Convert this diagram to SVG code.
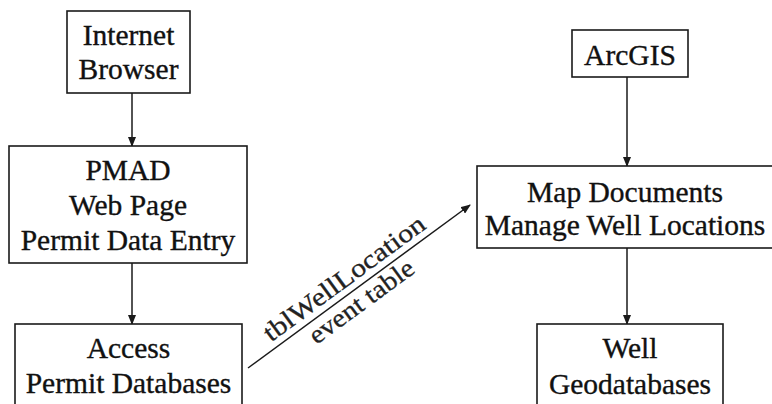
<svg xmlns="http://www.w3.org/2000/svg" width="772" height="404" viewBox="0 0 772 404">
<style>
.box{fill:#fff;stroke:#1a1a1a;stroke-width:1.6}
.t{font-family:"Liberation Serif","Times New Roman",serif;font-size:29.5px;fill:#111;stroke:#111;stroke-width:0.35;text-anchor:middle}
.lbl{font-family:"Liberation Serif","Times New Roman",serif;font-size:26px;fill:#222;stroke:#222;stroke-width:0.3;text-anchor:middle}
.c{stroke:#1a1a1a;stroke-width:1.5;fill:none;marker-end:url(#ah)}
</style>
<defs>
<marker id="ah" markerWidth="10" markerHeight="8" refX="9" refY="4" orient="auto" markerUnits="userSpaceOnUse">
<path d="M0,0 L10,4 L0,8 Z" fill="#1a1a1a"/>
</marker>
</defs>
<rect width="772" height="404" fill="#fff"/>
<g id="connectors">
<line class="c" x1="132" y1="93" x2="132" y2="146"/>
<line class="c" x1="132" y1="263" x2="132" y2="324"/>
<line class="c" x1="627" y1="77" x2="627" y2="166"/>
<line class="c" x1="627" y1="248" x2="627" y2="324"/>
<line class="c" x1="248" y1="368" x2="470" y2="205"/>
<g transform="translate(359,286.5) rotate(-36.3)">
<text class="lbl" x="-7" y="-7" textLength="194" lengthAdjust="spacingAndGlyphs">tblWellLocation</text>
<text class="lbl" x="-7" y="22" textLength="124" lengthAdjust="spacingAndGlyphs">event table</text>
</g>
</g>
<g id="internet-browser">
<rect class="box" x="67" y="11" width="123" height="82"/>
<text class="t" x="128.5" y="45">Internet</text>
<text class="t" x="128.5" y="79">Browser</text>
</g>
<g id="pmad">
<rect class="box" x="9" y="146" width="238" height="117"/>
<text class="t" x="128" y="180">PMAD</text>
<text class="t" x="128" y="215">Web Page</text>
<text class="t" x="128" y="250">Permit Data Entry</text>
</g>
<g id="access">
<rect class="box" x="15" y="324" width="227" height="90"/>
<text class="t" x="128.5" y="358">Access</text>
<text class="t" x="128.5" y="393">Permit Databases</text>
</g>
<g id="arcgis">
<rect class="box" x="572" y="30" width="116" height="47"/>
<text class="t" x="630" y="65">ArcGIS</text>
</g>
<g id="map-documents">
<rect class="box" x="477" y="166" width="310" height="82"/>
<text class="t" x="625" y="202">Map Documents</text>
<text class="t" x="625" y="235">Manage Well Locations</text>
</g>
<g id="well-geodatabases">
<rect class="box" x="537" y="324" width="186" height="90"/>
<text class="t" x="630" y="358">Well</text>
<text class="t" x="630" y="394">Geodatabases</text>
</g>
</svg>
